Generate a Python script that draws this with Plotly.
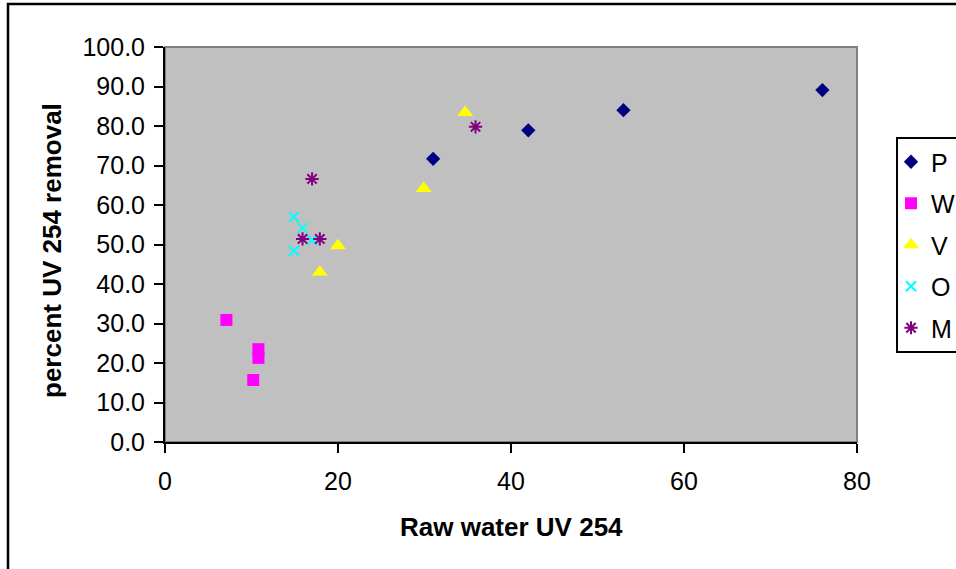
import plotly.graph_objects as go

# Data
P_x = [31, 42, 53, 76]
P_y = [71.7, 78.9, 84.0, 89.1]
W_x = [7.1, 10.8, 10.8, 10.2]
W_y = [30.9, 23.5, 21.3, 15.7]
V_x = [17.9, 20.0, 29.9, 34.7]
V_y = [43.0, 49.7, 64.2, 83.4]
O_x = [14.9, 15.9, 17.0, 14.9]
O_y = [57.0, 54.2, 51.1, 48.4]
M_x = [17.0, 15.9, 17.9, 35.9]
M_y = [66.6, 51.4, 51.4, 79.8]

series = [
    ("P", P_x, P_y, "diamond", "#000080", 11, 0),
    ("W", W_x, W_y, "square", "#FF00FF", 12, 0),
    ("V", V_x, V_y, "triangle-up", "#FFFF00", 14, 0),
    ("O", O_x, O_y, "x-thin", "#00FFFF", 10, 2),
    ("M", M_x, M_y, "asterisk", "#800080", 11, 2),
]

FONT = "Liberation Sans, Arial, sans-serif"

fig = go.Figure()
for name, xs, ys, sym, col, size, lw in series:
    fig.add_trace(go.Scatter(
        x=xs, y=ys, mode="markers", name=name, legendgroup=name,
        marker=dict(symbol=sym, color=col, size=size,
                    line=dict(color=col, width=lw)),
    ))

FIG_W, FIG_H = 1000, 569
L, R, T, B = 165, 857, 47, 442
W_, H_ = R - L, B - T

def px_x(p):
    return (p - L) / W_

def px_y(p):
    return (B - p) / H_

fig.update_layout(
    width=FIG_W, height=FIG_H,
    margin=dict(l=L, r=FIG_W - R, t=T, b=FIG_H - B, pad=0, autoexpand=False),
    paper_bgcolor="white",
    plot_bgcolor="#C0C0C0",
    font=dict(family=FONT, size=25, color="black"),
    showlegend=True,
    legend=dict(
        x=px_x(896), y=px_y(137), xanchor="left", yanchor="top",
        bordercolor="black", borderwidth=2, bgcolor="white",
        font=dict(size=25, family=FONT), tracegroupgap=6,
        indentation=-7,
    ),
    xaxis=dict(
        range=[0, 80], tickvals=[0, 20, 40, 60, 80], showgrid=False,
        zeroline=False, showline=True, linecolor="black", linewidth=2,
        ticks="outside", ticklen=9, tickcolor="black", tickwidth=2,
        tickfont=dict(size=25), fixedrange=True, ticklabelstandoff=7,
    ),
    yaxis=dict(
        range=[0, 100], tickvals=list(range(0, 101, 10)), tickformat=".1f",
        showgrid=False, zeroline=False, showline=True, linecolor="black",
        linewidth=2, ticks="outside", ticklen=9, tickcolor="black",
        tickwidth=2, tickfont=dict(size=25), fixedrange=True,
        ticklabelstandoff=4,
    ),
    shapes=[
        # plot-area border (grey)
        dict(type="rect", xref="paper", yref="paper", x0=0, y0=0, x1=1, y1=1,
             line=dict(color="#808080", width=2), layer="below"),
        # outer chart border (cropped at right/bottom)
        dict(type="rect", xref="paper", yref="paper",
             x0=px_x(8), y0=px_y(620), x1=px_x(1040), y1=px_y(4),
             line=dict(color="black", width=2.5)),
    ],
    annotations=[
        dict(text="<b>Raw water UV 254</b>", xref="paper", yref="paper",
             x=px_x(512), y=px_y(527), showarrow=False,
             font=dict(size=26, family=FONT), xanchor="center", yanchor="middle"),
        dict(text="<b>percent UV 254 removal</b>", xref="paper", yref="paper",
             x=px_x(52), y=px_y(251), showarrow=False, textangle=-90,
             font=dict(size=26, family=FONT), xanchor="center", yanchor="middle"),
    ],
)

fig.write_html(
    "out.html",
    config={"displayModeBar": False},
    post_script=(
        "document.body.style.margin='0';"
        "document.body.style.overflow='hidden';"
        "document.documentElement.style.overflow='hidden';"
    ),
)
